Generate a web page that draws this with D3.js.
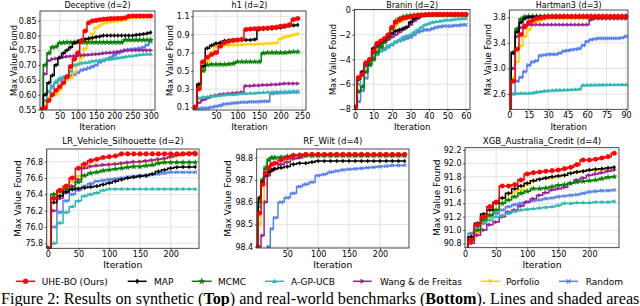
<!DOCTYPE html>
<html><head><meta charset="utf-8">
<script src="https://cdn.jsdelivr.net/npm/d3@7"></script>
<style>
body{margin:0;background:#fff}
svg{display:block}
text{font-family:"DejaVu Sans",sans-serif;fill:#000}
</style>
</head><body>
<svg id="c" width="640" height="306"></svg>
<script>
// ---------------- data ----------------
const methods = ["UHE-BO (Ours)","MAP","MCMC","A-GP-UCB","Wang & de Freitas","Porfolio","Random"];
const colors  = ["#ff0000","#000000","#008000","#30b8b0","#9a1f9a","#ffd200","#5580ee"];
const markerTypes = ["circle","diamond","star","tri-up","tri-right","tri-down","x"];

// Deceptive (d=2)
const decIter = [0,10,20,30,40,50,60,70,80,90,100,110,120,130,140,150,160,170,180,190,200,210,220,230,240,250,260,270,280,290,300];
const decUHE  = [0.55,0.555,0.58,0.60,0.615,0.627,0.64,0.66,0.695,0.72,0.741,0.78,0.815,0.843,0.849,0.851,0.853,0.855,0.856,0.857,0.857,0.858,0.858,0.860,0.865,0.866,0.866,0.866,0.866,0.866,0.866];
const decMAP  = [0.55,0.60,0.64,0.665,0.70,0.725,0.74,0.75,0.76,0.775,0.78,0.785,0.787,0.79,0.792,0.795,0.797,0.80,0.80,0.80,0.80,0.80,0.80,0.80,0.80,0.80,0.802,0.803,0.805,0.807,0.81];
const decMCMC = [0.55,0.70,0.74,0.76,0.762,0.775,0.776,0.777,0.777,0.777,0.777,0.777,0.777,0.777,0.777,0.777,0.777,0.777,0.777,0.777,0.777,0.777,0.777,0.785,0.785,0.785,0.785,0.785,0.785,0.785,0.785];
const decAGP  = [0.55,0.58,0.61,0.625,0.645,0.655,0.66,0.665,0.68,0.70,0.703,0.707,0.708,0.71,0.713,0.715,0.716,0.718,0.72,0.72,0.722,0.724,0.726,0.728,0.73,0.731,0.733,0.735,0.736,0.737,0.737];
const decWang = [0.55,0.67,0.715,0.72,0.722,0.725,0.727,0.729,0.73,0.731,0.732,0.733,0.734,0.735,0.736,0.737,0.738,0.74,0.741,0.742,0.743,0.745,0.747,0.75,0.75,0.75,0.75,0.75,0.75,0.75,0.75];
const decPorf = [0.55,0.565,0.59,0.60,0.60,0.615,0.64,0.65,0.655,0.675,0.70,0.725,0.755,0.785,0.805,0.825,0.833,0.84,0.843,0.845,0.847,0.848,0.85,0.852,0.858,0.86,0.86,0.861,0.861,0.862,0.862];
const decRand = [0.55,0.58,0.61,0.63,0.64,0.65,0.655,0.66,0.665,0.668,0.675,0.683,0.686,0.69,0.695,0.70,0.71,0.715,0.72,0.725,0.733,0.74,0.745,0.75,0.752,0.753,0.755,0.757,0.76,0.768,0.778];
const decXTicks = [0,50,100,150,200,250,300];
const decYTicks = [0.55,0.60,0.65,0.70,0.75,0.80,0.85];

// h1 (d=2)
const h1Iter = [1,10,20,30,40,50,60,70,80,90,100,110,120,130,140,150,160,170,180,190,200,210,220,230,240];
const h1UHE  = [0.1,0.3,0.6,0.65,0.68,0.70,0.77,0.81,0.825,0.835,0.84,0.845,0.955,0.96,0.963,0.965,0.968,0.97,0.975,0.98,0.99,0.995,1.005,1.065,1.075];
const h1MAP  = [0.1,0.35,0.55,0.75,0.78,0.80,0.81,0.83,0.835,0.838,0.84,0.84,0.84,0.84,0.845,0.955,0.96,0.962,0.965,0.97,0.975,0.985,0.995,1.0,1.005];
const h1MCMC = [0.1,0.35,0.5,0.565,0.57,0.57,0.57,0.57,0.575,0.58,0.60,0.60,0.60,0.60,0.60,0.60,0.695,0.70,0.70,0.70,0.70,0.70,0.705,0.71,0.71];
const h1AGP  = [0.1,0.2,0.21,0.215,0.22,0.225,0.23,0.235,0.24,0.24,0.245,0.25,0.25,0.255,0.255,0.26,0.262,0.265,0.265,0.268,0.27,0.27,0.272,0.275,0.275];
const h1Wang = [0.1,0.15,0.18,0.2,0.22,0.23,0.24,0.245,0.25,0.255,0.26,0.265,0.335,0.335,0.34,0.34,0.345,0.345,0.35,0.35,0.355,0.36,0.36,0.36,0.36];
const h1Porf = [0.1,0.3,0.52,0.6,0.70,0.765,0.775,0.78,0.78,0.782,0.785,0.785,0.79,0.79,0.79,0.795,0.795,0.80,0.80,0.805,0.85,0.87,0.88,0.895,0.905];
const h1Rand = [0.08,0.085,0.09,0.09,0.1,0.11,0.12,0.135,0.14,0.145,0.15,0.155,0.155,0.16,0.16,0.162,0.165,0.165,0.25,0.255,0.26,0.26,0.262,0.265,0.265];
const h1Band = [0.02,0.015,0.012,0.008,0.01,0.012,0.008];
const h1XTicks = [50,100,150,200,250];
const h1YTicks = [0.1,0.3,0.5,0.7,0.9,1.1];

// Branin (d=2)
const branIter = [0,2,4,6,8,10,12,14,16,18,20,22,24,26,28,30,32,34,36,38,40,42,44,46,48,50,52,54,56,58,60];
const branUHE  = [-7.9,-5.5,-5.2,-4.3,-4.0,-3.3,-2.7,-2.5,-2.3,-2.0,-1.4,-1.0,-0.8,-0.67,-0.6,-0.54,-0.48,-0.42,-0.4,-0.38,-0.36,-0.35,-0.35,-0.35,-0.35,-0.35,-0.35,-0.35,-0.35,-0.35,-0.35];
const branMAP  = [-7.8,-5.6,-5.0,-4.4,-4.0,-3.1,-2.8,-2.6,-2.4,-2.1,-1.9,-1.7,-1.6,-1.5,-1.4,-1.0,-0.7,-0.55,-0.45,-0.4,-0.37,-0.37,-0.37,-0.37,-0.37,-0.37,-0.37,-0.37,-0.37,-0.37,-0.37];
const branMCMC = [-7.9,-6.6,-6.2,-5.0,-4.4,-4.0,-3.4,-3.0,-2.6,-2.2,-1.5,-0.9,-0.7,-0.55,-0.5,-0.45,-0.42,-0.4,-0.4,-0.4,-0.4,-0.4,-0.4,-0.4,-0.4,-0.4,-0.4,-0.4,-0.4,-0.4,-0.4];
const branAGP  = [-7.9,-6.0,-5.3,-4.6,-4.2,-3.8,-3.5,-3.3,-3.2,-3.0,-2.8,-2.6,-2.4,-2.2,-2.1,-2.0,-1.8,-1.6,-1.4,-1.2,-1.1,-1.0,-0.95,-0.9,-0.85,-0.8,-0.8,-0.75,-0.72,-0.7,-0.68];
const branWang = [-7.8,-5.4,-5.0,-4.2,-4.0,-3.5,-3.0,-2.8,-2.6,-2.4,-2.2,-2.0,-1.8,-1.6,-1.4,-1.2,-0.9,-0.7,-0.5,-0.45,-0.4,-0.4,-0.4,-0.4,-0.4,-0.4,-0.4,-0.4,-0.4,-0.4,-0.4];
const branPorf = [-7.8,-5.6,-5.1,-4.5,-4.1,-3.5,-3.0,-2.7,-2.4,-2.0,-1.6,-1.3,-1.0,-0.8,-0.7,-0.6,-0.5,-0.45,-0.4,-0.38,-0.38,-0.38,-0.38,-0.38,-0.38,-0.38,-0.38,-0.38,-0.38,-0.38,-0.38];
const branRand = [-8.0,-7.4,-6.5,-5.5,-4.5,-4.0,-3.6,-3.3,-3.1,-2.9,-2.8,-2.6,-2.5,-2.4,-2.3,-2.2,-2.0,-1.8,-1.7,-1.6,-1.6,-1.5,-1.4,-1.35,-1.3,-1.3,-1.3,-1.25,-1.25,-1.2,-1.2];
const branXTicks = [0,10,20,30,40,50,60];
const branYTicks = [-8,-6,-4,-2,0];

// Hartman3 (d=3)
const hartIter = [0,3,6,9,12,15,18,21,24,27,30,33,36,39,42,45,48,51,54,57,60,63,66,69,72,75,78,81,84,87,90];
const hartUHE  = [2.3,2.8,3.3,3.53,3.65,3.72,3.75,3.78,3.79,3.8,3.812,3.812,3.812,3.812,3.812,3.812,3.812,3.812,3.812,3.812,3.812,3.812,3.812,3.812,3.812,3.812,3.812,3.812,3.812,3.812,3.812];
const hartMAP  = [2.3,3.24,3.57,3.72,3.78,3.8,3.81,3.81,3.81,3.81,3.81,3.81,3.81,3.81,3.81,3.81,3.81,3.81,3.81,3.81,3.81,3.81,3.81,3.81,3.81,3.81,3.81,3.81,3.81,3.81,3.81];
const hartMCMC = [2.3,3.25,3.62,3.77,3.81,3.815,3.815,3.815,3.815,3.815,3.815,3.815,3.815,3.815,3.815,3.815,3.815,3.815,3.815,3.815,3.815,3.815,3.815,3.815,3.815,3.815,3.815,3.815,3.815,3.815,3.815];
const hartAGP  = [2.3,2.6,2.605,2.61,2.61,2.61,2.615,2.63,2.635,2.645,2.65,2.655,2.66,2.66,2.662,2.665,2.667,2.67,2.675,2.735,2.74,2.74,2.742,2.742,2.743,2.744,2.745,2.745,2.745,2.746,2.746];
const hartWang = [2.3,3.0,3.5,3.64,3.68,3.685,3.685,3.685,3.685,3.685,3.685,3.685,3.685,3.685,3.685,3.685,3.685,3.685,3.685,3.685,3.685,3.76,3.78,3.78,3.78,3.78,3.78,3.78,3.78,3.78,3.78];
const hartPorf = [2.3,2.85,3.1,3.35,3.5,3.6,3.68,3.73,3.75,3.77,3.78,3.78,3.78,3.78,3.78,3.78,3.78,3.78,3.78,3.78,3.78,3.78,3.78,3.78,3.78,3.78,3.78,3.78,3.78,3.78,3.78];
const hartRand = [2.3,2.6,2.8,2.86,2.95,3.05,3.1,3.12,3.2,3.21,3.22,3.22,3.22,3.24,3.27,3.28,3.29,3.3,3.31,3.36,3.42,3.45,3.46,3.47,3.47,3.47,3.47,3.47,3.47,3.48,3.5];
const hartBand = [0,0,0,0.02,0,0,0.01];
const hartXTicks = [0,15,30,45,60,75,90];
const hartYTicks = [2.6,3.0,3.4,3.8];

// LR_Vehicle_Silhouette (d=2)
const lrIter = [0,10,20,30,40,50,60,70,80,90,100,110,120,130,140,150,160,170,180,190,200,210,220,230,240];
const lrUHE  = [75.74,76.35,76.45,76.5,76.6,76.72,76.77,76.81,76.83,76.85,76.86,76.87,76.895,76.895,76.895,76.895,76.895,76.895,76.895,76.895,76.895,76.895,76.895,76.895,76.895];
const lrMAP  = [75.74,76.3,76.38,76.43,76.46,76.47,76.48,76.49,76.5,76.52,76.54,76.56,76.58,76.6,76.61,76.62,76.63,76.65,76.68,76.7,76.72,76.73,76.735,76.735,76.735];
const lrMCMC = [75.74,76.4,76.44,76.46,76.47,76.55,76.63,76.66,76.67,76.69,76.7,76.71,76.72,76.73,76.74,76.74,76.75,76.76,76.78,76.79,76.79,76.79,76.79,76.79,76.79];
const lrAGP  = [75.7,75.8,76.05,76.18,76.25,76.32,76.38,76.4,76.42,76.45,76.465,76.465,76.465,76.465,76.465,76.465,76.465,76.465,76.465,76.465,76.465,76.465,76.465,76.465,76.465];
const lrWang = [75.74,76.2,76.35,76.42,76.5,76.58,76.72,76.74,76.75,76.76,76.765,76.77,76.78,76.79,76.8,76.8,76.81,76.82,76.83,76.84,76.86,76.88,76.89,76.9,76.91];
const lrPorf = [75.74,76.35,76.42,76.47,76.55,76.62,76.73,76.75,76.76,76.76,76.765,76.77,76.775,76.78,76.79,76.8,76.8,76.81,76.82,76.84,76.85,76.87,76.9,76.91,76.92];
const lrRand = [75.74,76.0,76.18,76.32,76.4,76.45,76.5,76.53,76.56,76.57,76.58,76.59,76.6,76.61,76.62,76.63,76.63,76.64,76.65,76.66,76.67,76.67,76.67,76.67,76.67];
const lrXTicks = [0,50,100,150,200];
const lrYTicks = [75.8,76.0,76.2,76.4,76.6,76.8];

// RF_Wilt (d=4)
const rfIter = [1,5,10,15,20,25,30,40,50,60,70,80,90,100,110,120,130,140,150,160,170,180,190,200,210,220,230,240];
const rfUHE  = [98.4,98.55,98.68,98.73,98.755,98.77,98.775,98.79,98.8,98.81,98.812,98.815,98.815,98.815,98.815,98.815,98.815,98.815,98.815,98.815,98.815,98.815,98.815,98.815,98.815,98.815,98.815,98.815];
const rfMAP  = [98.4,98.62,98.69,98.72,98.735,98.745,98.75,98.755,98.76,98.77,98.775,98.775,98.78,98.785,98.785,98.785,98.785,98.785,98.785,98.785,98.785,98.785,98.785,98.785,98.785,98.785,98.785,98.785];
const rfMCMC = [98.4,98.6,98.7,98.75,98.79,98.8,98.8,98.8,98.805,98.81,98.81,98.81,98.81,98.81,98.81,98.81,98.81,98.81,98.81,98.81,98.81,98.81,98.81,98.81,98.81,98.81,98.81,98.81];
const rfAGP  = [98.4,98.58,98.7,98.76,98.79,98.8,98.8,98.805,98.805,98.81,98.81,98.81,98.81,98.81,98.81,98.81,98.81,98.81,98.81,98.81,98.81,98.81,98.81,98.81,98.81,98.81,98.81,98.81];
const rfWang = [98.35,98.4,98.45,98.6,98.72,98.74,98.75,98.77,98.78,98.795,98.8,98.81,98.81,98.81,98.81,98.81,98.81,98.81,98.81,98.81,98.81,98.81,98.81,98.81,98.81,98.81,98.81,98.81];
const rfPorf = [98.4,98.5,98.6,98.68,98.72,98.74,98.75,98.765,98.78,98.795,98.8,98.81,98.81,98.81,98.81,98.81,98.81,98.81,98.81,98.81,98.81,98.81,98.81,98.81,98.81,98.81,98.81,98.81];
const rfRand = [98.2,98.25,98.3,98.35,98.4,98.48,98.53,98.6,98.62,98.64,98.67,98.68,98.69,98.72,98.725,98.735,98.74,98.745,98.748,98.75,98.752,98.755,98.757,98.76,98.762,98.765,98.765,98.766];
const rfXTicks = [50,100,150,200];
const rfYTicks = [98.4,98.5,98.6,98.7,98.8];

// XGB_Australia_Credit (d=4)
const xgbIter = [0,10,20,30,40,50,60,70,80,90,100,110,120,130,140,150,160,170,180,190,200,210,220,230,240];
const xgbUHE  = [90.6,90.85,91.08,91.2,91.35,91.42,91.66,91.66,91.68,91.75,91.84,91.86,91.87,91.88,91.89,91.9,91.92,91.94,91.98,92.05,92.05,92.06,92.08,92.1,92.15];
const xgbMAP  = [90.6,90.9,91.1,91.24,91.3,91.4,91.48,91.55,91.62,91.66,91.7,91.74,91.76,91.78,91.8,91.81,91.82,91.85,91.87,91.88,91.9,91.91,91.92,91.93,91.94];
const xgbMCMC = [90.6,90.85,91.0,91.15,91.22,91.3,91.4,91.45,91.5,91.55,91.58,91.62,91.62,91.63,91.65,91.67,91.68,91.7,91.72,91.73,91.74,91.75,91.77,91.79,91.8];
const xgbAGP  = [90.7,90.9,91.0,91.1,91.15,91.2,91.22,91.25,91.28,91.3,91.31,91.32,91.33,91.34,91.35,91.37,91.4,91.4,91.41,91.41,91.41,91.42,91.42,91.42,91.43];
const xgbWang = [90.6,90.8,90.92,91.0,91.08,91.12,91.2,91.27,91.3,91.36,91.42,91.47,91.52,91.56,91.6,91.62,91.64,91.7,91.75,91.78,91.82,91.84,91.86,91.88,91.9];
const xgbPorf = [90.6,90.8,90.95,91.1,91.2,91.3,91.4,91.52,91.57,91.6,91.68,91.73,91.76,91.77,91.78,91.8,91.82,91.85,91.87,91.88,91.89,91.89,91.9,91.9,91.91];
const xgbRand = [90.7,90.95,91.05,91.18,91.22,91.25,91.3,91.35,91.38,91.4,91.42,91.44,91.45,91.47,91.48,91.5,91.51,91.52,91.53,91.55,91.57,91.58,91.59,91.59,91.6];
const xgbXTicks = [0,50,100,150,200];
const xgbYTicks = [90.8,91.0,91.2,91.4,91.6,91.8,92.0,92.2];

// ---------------- layout ----------------
const panels = [
  {title:"Deceptive (d=2)", iter:decIter, series:[decUHE,decMAP,decMCMC,decAGP,decWang,decPorf,decRand], xt:decXTicks, yt:decYTicks, yf:".2f",
   box:[40,155,11,110], xd:[-4.1,311.8], yd:[0.5483,0.8828], ylabX:14, top:true},
  {title:"h1 (d=2)", iter:h1Iter, series:[h1UHE,h1MAP,h1MCMC,h1AGP,h1Wang,h1Porf,h1Rand], band:h1Band, xt:h1XTicks, yt:h1YTicks, yf:".1f",
   box:[193,306,11,110], xd:[-3.4,259], yd:[0.07,1.158], ylabX:170, top:true},
  {title:"Branin (d=2)", iter:branIter, series:[branUHE,branMAP,branMCMC,branAGP,branWang,branPorf,branRand], xt:branXTicks, yt:branYTicks, yf:"d",
   box:[354.3,470,9.5,109.5], xd:[-0.38,62.2], yd:[-8.04,0.04], ylabX:333, top:true},
  {title:"Hartman3 (d=3)", iter:hartIter, series:[hartUHE,hartMAP,hartMCMC,hartAGP,hartWang,hartPorf,hartRand], band:hartBand, xt:hartXTicks, yt:hartYTicks, yf:".1f",
   box:[509.3,628,10,109.3], xd:[0,91.5], yd:[2.36,3.914], ylabX:488, top:true},
  {title:"LR_Vehicle_Silhouette (d=2)", iter:lrIter, series:[lrUHE,lrMAP,lrMCMC,lrAGP,lrWang,lrPorf,lrRand], xt:lrXTicks, yt:lrYTicks, yf:".1f",
   box:[46.7,199,149,248.3], xd:[-1.6,246], yd:[75.739,76.955], ylabX:18.3, top:false},
  {title:"RF_Wilt (d=4)", iter:rfIter, series:[rfUHE,rfMAP,rfMCMC,rfAGP,rfWang,rfPorf,rfRand], xt:rfXTicks, yt:rfYTicks, yf:".1f",
   box:[256.7,409,149,248], xd:[0.5,247], yd:[98.394,98.839], ylabX:228.3, top:false},
  {title:"XGB_Australia_Credit (d=4)", iter:xgbIter, series:[xgbUHE,xgbMAP,xgbMCMC,xgbAGP,xgbWang,xgbPorf,xgbRand], xt:xgbXTicks, yt:xgbYTicks, yf:".1f",
   box:[465,619,147.7,247.7], xd:[0,247.6], yd:[90.735,92.234], ylabX:436.7, top:false}
];

const svg = d3.select("#c");
const defs = svg.append("defs");

function markerPath(type, s){
  const r = s;
  switch(type){
    case "circle": return d3.symbol(d3.symbolCircle, Math.PI*r*r)();
    case "diamond": return `M0,${-r*1.25}L${r*0.8},0L0,${r*1.25}L${-r*0.8},0Z`;
    case "star": return d3.symbol(d3.symbolStar, r*r*3.2)();
    case "tri-up": return `M0,${-r*1.2}L${r*1.1},${r*0.8}L${-r*1.1},${r*0.8}Z`;
    case "tri-down": return `M0,${r*1.2}L${r*1.1},${-r*0.8}L${-r*1.1},${-r*0.8}Z`;
    case "tri-right": return `M${r*1.2},0L${-r*0.8},${r*1.1}L${-r*0.8},${-r*1.1}Z`;
    case "x": return `M${-r},${-r}L${r},${r}M${-r},${r}L${r},${-r}`;
  }
}
function drawMarker(g, type, x, y, color, s){
  const p = g.append("path").attr("d", markerPath(type, s)).attr("transform",`translate(${x},${y})`);
  if(type==="x") p.attr("fill","none").attr("stroke",color).attr("stroke-width",1.1);
  else p.attr("fill",color).attr("stroke",color).attr("stroke-width",0.4);
}

const minus = s => s.replace("-", "\u2212");

panels.forEach((P, pi) => {
  const [x0,x1,y0,y1] = P.box;
  const xs = d3.scaleLinear().domain(P.xd).range([x0,x1]);
  const ys = d3.scaleLinear().domain(P.yd).range([y1,y0]);
  const g = svg.append("g");
  const tickFont = 8;
  // grid
  const grid = g.append("g").attr("stroke","#dcdcdc").attr("stroke-width",0.8);
  P.xt.forEach(t => grid.append("line").attr("x1",xs(t)).attr("x2",xs(t)).attr("y1",y0).attr("y2",y1));
  P.yt.forEach(t => grid.append("line").attr("x1",x0).attr("x2",x1).attr("y1",ys(t)).attr("y2",ys(t)));

  // axes via d3
  const xAxis = d3.axisBottom(xs).tickValues(P.xt).tickSize(2).tickPadding(1.5).tickFormat(d3.format("d"));
  const yAxis = d3.axisLeft(ys).tickValues(P.yt).tickSize(2).tickPadding(1.5).tickFormat(d => minus(d3.format(P.yf)(d)));
  const gx = g.append("g").attr("transform",`translate(0,${y1})`).call(xAxis);
  const gy = g.append("g").attr("transform",`translate(${x0},0)`).call(yAxis);
  [gx,gy].forEach(a => {
    a.select(".domain").remove();
    a.selectAll("line").attr("stroke","#222").attr("stroke-width",0.7);
    a.selectAll("text").attr("font-size",tickFont).attr("font-family","DejaVu Sans").attr("fill","#000");
  });

  // clip
  const cid = "clip"+pi;
  defs.append("clipPath").attr("id",cid).append("rect").attr("x",x0).attr("y",y0).attr("width",x1-x0).attr("height",y1-y0);
  const plot = g.append("g").attr("clip-path",`url(#${cid})`);

  const order = [6,5,4,3,2,1,0];
  // bands
  if(P.band){
    order.forEach(k => {
      const w = P.band[k]; if(!w) return;
      const area = d3.area().curve(d3.curveStep).x((d,i)=>xs(P.iter[i])).y0(d=>ys(d-w)).y1(d=>ys(d+w));
      plot.append("path").attr("d",area(P.series[k])).attr("fill",colors[k]).attr("opacity",0.2);
    });
  }
  order.forEach(k => {
    const line = d3.line().curve(d3.curveStep).x((d,i)=>xs(P.iter[i])).y(d=>ys(d));
    plot.append("path").attr("d",line(P.series[k])).attr("fill","none").attr("stroke",colors[k]).attr("stroke-width",1.5);
    const mg = plot.append("g");
    P.series[k].forEach((v,i) => drawMarker(mg, markerTypes[k], xs(P.iter[i]), ys(v), colors[k], k===0?2.3:1.7));
  });

  // frame
  g.append("rect").attr("x",x0).attr("y",y0).attr("width",x1-x0).attr("height",y1-y0)
    .attr("fill","none").attr("stroke","#222").attr("stroke-width",0.8);

  // labels
  const cx = (x0+x1)/2;
  g.append("text").attr("x",cx).attr("y", P.top ? 8 : 143.5).attr("text-anchor","middle")
    .attr("font-size", P.top ? 8 : 8.6).text(P.title);
  g.append("text").attr("x",cx).attr("y", P.top ? 129.5 : 268).attr("text-anchor","middle")
    .attr("font-size", P.top ? 8.6 : 9.2).text("Iteration");
  const cy = (y0+y1)/2;
  g.append("text").attr("transform",`translate(${P.ylabX + 3},${cy}) rotate(-90)`).attr("text-anchor","middle")
    .attr("font-size", P.top ? 8.4 : 9).text("Max Value Found");
});

// legend
const legItems = [
  {l0:16,l1:35,t:41.7},{l0:127.7,l1:146.7,t:154},{l0:191.7,l1:211.7,t:218},{l0:265,l1:284,t:291},
  {l0:353,l1:371.7,t:380},{l0:480.7,l1:500,t:506},{l0:559,l1:578,t:585.7}
];
const lg = svg.append("g");
const ly = 281.3;
methods.forEach((m,k) => {
  const it = legItems[k];
  lg.append("line").attr("x1",it.l0).attr("x2",it.l1).attr("y1",ly).attr("y2",ly).attr("stroke",colors[k]).attr("stroke-width",1.5);
  drawMarker(lg, markerTypes[k], (it.l0+it.l1)/2, ly, colors[k], k===0?2.5:2.0);
  lg.append("text").attr("x",it.t).attr("y",ly+3.2).attr("font-size",9).text(m);
});

// caption
const cap = svg.append("text").attr("x",1).attr("y",303.5)
  .style("font-family","'Liberation Serif','Times New Roman',serif").style("font-size","14px");
cap.append("tspan").text("Figure 2: Results on synthetic (");
cap.append("tspan").attr("font-weight","bold").text("Top");
cap.append("tspan").text(") and real-world benchmarks (");
cap.append("tspan").attr("font-weight","bold").text("Bottom");
cap.append("tspan").text("). Lines and shaded areas");
const len = cap.node().getComputedTextLength();
cap.style("font-size", (14*639/len) + "px");
</script>
</body></html>
